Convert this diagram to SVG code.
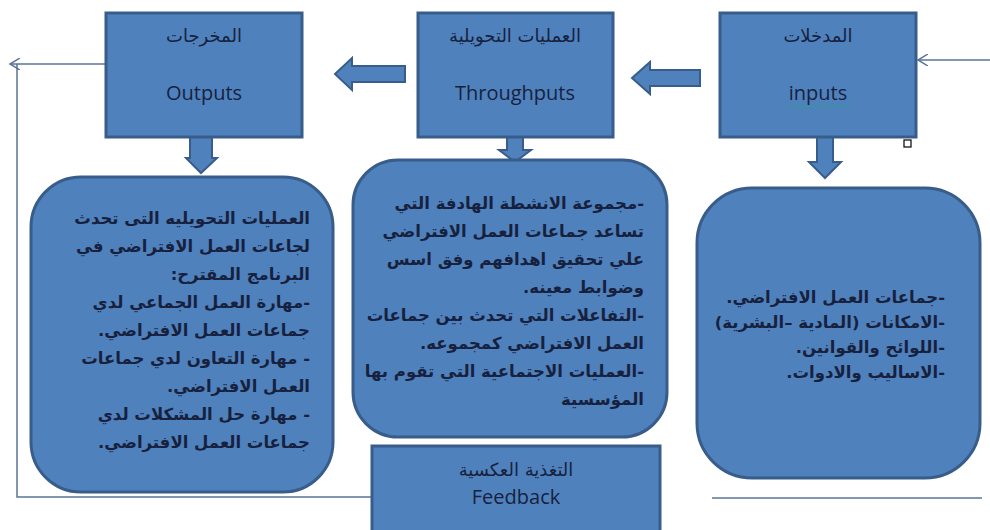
<svg xmlns="http://www.w3.org/2000/svg" width="990" height="530" viewBox="0 0 990 530">
<defs>
<style>
.box{fill:#4f81bd;stroke:#385d8a;stroke-width:3}
.barrow{fill:#4f81bd;stroke:#385d8a;stroke-width:2}
.link{fill:none;stroke:#5a7496;stroke-width:1.5}
.ar{font-family:"DejaVu Sans",sans-serif;font-size:16.5px;font-weight:bold;fill:#17213d}
.ttl{font-family:"DejaVu Sans",sans-serif;font-size:18px;fill:#17213d}
.en{font-family:"Open Sans","Noto Sans",sans-serif;font-size:20px;fill:#17213d}
.rtl{direction:rtl;unicode-bidi:embed}
</style>
<marker id="open" markerWidth="12" markerHeight="12" refX="10" refY="6" orient="auto" markerUnits="userSpaceOnUse">
<path d="M0,0 L10,6 L0,12" fill="none" stroke="#5a7496" stroke-width="1.5"/>
</marker>
</defs>
<rect width="990" height="530" fill="#ffffff"/>

<g id="connectors">
<path class="link" d="M372,497 H17 V64"/>
<path class="link" d="M105,64 H10" marker-end="url(#open)"/>
<path class="link" d="M712,498 H982"/>
<path class="link" d="M990,60 H918" marker-end="url(#open)"/>
<path class="barrow" d="M405,66 H352 V58 L335,74 L352,90 V82 H405 Z"/>
<path class="barrow" d="M700,70 H650 V62 L632,78 L650,94 V86 H700 Z"/>
<path class="barrow" d="M190,137 V158 H186 L201,173 L217,158 H212 V137 Z"/>
<path class="barrow" d="M507,137 V150 H499 L515,162 L531,150 H523 V137 Z"/>
<path class="barrow" d="M817,137 V162 H809 L825,178 L841,162 H833 V137 Z"/>
</g>

<g id="outputs">
<rect class="box" x="106" y="13" width="196" height="124"/>
<text class="ttl" x="204" y="42" text-anchor="middle">المخرجات</text>
<text class="en" x="204" y="100" text-anchor="middle">Outputs</text>
</g>

<g id="throughputs">
<rect class="box" x="418" y="13" width="195" height="124"/>
<text class="ttl" x="515" y="42" text-anchor="middle">العمليات التحويلية</text>
<text class="en" x="515" y="100" text-anchor="middle">Throughputs</text>
</g>

<g id="inputs">
<rect class="box" x="720" y="13" width="196" height="124"/>
<text class="ttl" x="818" y="42" text-anchor="middle">المدخلات</text>
<text class="en" x="818" y="100" text-anchor="middle">inputs</text>
<path d="M787,106 q2,-2 4,0 t4,0 t4,0 t4,0 t4,0 t4,0 t4,0 t4,0 t4,0 t4,0 t4,0 t4,0 t4,0 t4,0 t4,0 t4,0" fill="none" stroke="#2f9f8f" stroke-width="1"/>
<rect x="904" y="140" width="7" height="7" fill="#ffffff" stroke="#000000" stroke-width="1.2"/>
</g>

<g id="outputs-detail">
<rect class="box" x="31" y="177" width="302" height="315" rx="50" ry="50"/>
<g class="ar rtl" text-anchor="start">
<text x="310" y="224">العمليات التحويليه التى تحدث</text>
<text x="310" y="252">لجاعات العمل الافتراضي في</text>
<text x="310" y="280">البرنامج المقترح:</text>
<text x="310" y="308">-مهارة العمل الجماعي لدي</text>
<text x="310" y="336">جماعات العمل الافتراضي.</text>
<text x="310" y="364">- مهارة التعاون لدي جماعات</text>
<text x="310" y="392">العمل الافتراضي.</text>
<text x="310" y="420">- مهارة حل المشكلات لدي</text>
<text x="310" y="448">جماعات العمل الافتراضي.</text>
</g>
</g>

<g id="throughputs-detail">
<rect class="box" x="353" y="160" width="314" height="277" rx="45" ry="45"/>
<g class="ar rtl" text-anchor="start">
<text x="644" y="209">-مجموعة الانشطة  الهادفة التي</text>
<text x="644" y="237">تساعد جماعات العمل الافتراضي</text>
<text x="644" y="265">علي تحقيق اهدافهم وفق اسس</text>
<text x="644" y="293">وضوابط معينه.</text>
<text x="644" y="321">-التفاعلات التي تحدث بين جماعات</text>
<text x="644" y="349">العمل الافتراضي كمجموعه.</text>
<text x="644" y="377">-العمليات الاجتماعية التي تقوم بها</text>
<text x="644" y="405">المؤسسية</text>
</g>
</g>

<g id="inputs-detail">
<rect class="box" x="697" y="188" width="283" height="290" rx="55" ry="55"/>
<g class="ar rtl" text-anchor="start">
<text x="945" y="303">-جماعات العمل الافتراضي.</text>
<text x="945" y="328">-الامكانات (المادية –البشرية)</text>
<text x="945" y="353">-اللوائح والقوانين.</text>
<text x="945" y="378">-الاساليب والادوات.</text>
</g>
</g>

<g id="feedback">
<rect class="box" x="372" y="446" width="288" height="90"/>
<text class="ttl" x="516" y="476" text-anchor="middle" font-size="17">التغذية العكسية</text>
<text class="en" x="516" y="504" text-anchor="middle">Feedback</text>
</g>
</svg>
